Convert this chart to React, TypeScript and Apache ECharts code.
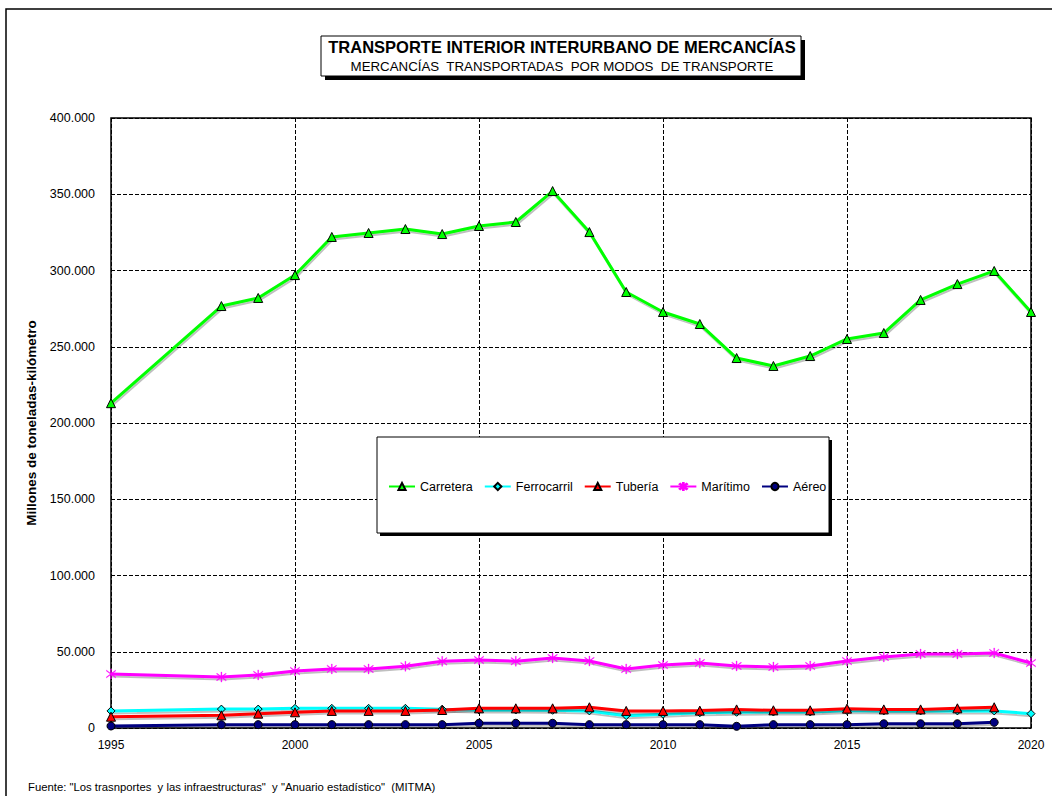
import React, { useEffect, useRef } from "react";
import * as echarts from "echarts";

const years = [1995, 1998, 1999, 2000, 2001, 2002, 2003, 2004, 2005, 2006, 2007, 2008, 2009, 2010, 2011, 2012, 2013, 2014, 2015, 2016, 2017, 2018, 2019, 2020];
const carretera = [213000, 276700, 282000, 297000, 322000, 324600, 327200, 323900, 329200, 331800, 352100, 325200, 285900, 272800, 264900, 242600, 237400, 243900, 255100, 259000, 280700, 291100, 299700, 272800];
const ferrocarril = [11200, 12400, 12400, 12900, 12900, 12900, 12900, 12300, 11800, 11800, 11600, 11200, 8100, 9000, 10000, 10300, 10500, 10500, 11400, 11200, 11200, 11200, 11200, 9400];
const tuberia = [7400, 8300, 9400, 10300, 11200, 11200, 11200, 11800, 12900, 12900, 12900, 13600, 11200, 11200, 11400, 12200, 11600, 11600, 12700, 12200, 12200, 12900, 13600, null];
const maritimo = [35400, 33400, 34800, 37400, 38700, 38700, 40500, 43700, 44600, 43800, 45900, 43900, 38700, 41300, 42600, 40700, 40000, 40700, 43900, 46600, 48500, 48500, 49200, 42600];
const aereo = [1300, 2200, 2200, 2200, 2200, 2200, 2200, 2200, 3100, 3100, 3100, 2200, 2200, 2200, 2200, 1100, 2200, 2200, 2200, 2800, 2800, 2800, 3700, null];

const seriesNames = ["Carretera", "Ferrocarril", "Tubería", "Marítimo", "Aéreo"];
const title1 = "TRANSPORTE INTERIOR INTERURBANO DE MERCANCÍAS";
const title2 = "MERCANCÍAS  TRANSPORTADAS  POR MODOS  DE TRANSPORTE";
const yName = "Millones de toneladas-kilómetro";
const footer = 'Fuente: "Los trasnportes  y las infraestructuras"  y "Anuario estadístico"  (MITMA)';

const FONT = "'Liberation Sans', Arial, sans-serif";

const asterisk =
  "path://M-0.35,-5 L0.35,-5 L0.35,5 L-0.35,5 Z M3.29,3.78 L3.78,3.29 L-3.29,-3.78 L-3.78,-3.29 Z M3.78,-3.29 L3.29,-3.78 L-3.78,3.29 L-3.29,3.78 Z";

function pairs(vals: (number | null)[]) {
  const out: number[][] = [];
  years.forEach((y, i) => {
    const v = vals[i];
    if (v !== null && v !== undefined) out.push([y, v]);
  });
  return out;
}

function fmtThousands(v: number) {
  if (v === 0) return "0";
  const s = String(Math.round(v));
  return s.replace(/\B(?=(\d{3})+(?!\d))/g, ".");
}

export default function App() {
  const ref = useRef<HTMLDivElement>(null);
  useEffect(() => {
    if (!ref.current) return;
    const chart = echarts.init(ref.current, null, { renderer: "svg" });
    const shadow = { shadowColor: "rgba(0,0,0,0.25)", shadowBlur: 1, shadowOffsetX: 1, shadowOffsetY: 2 };
    const mk = (name: string, vals: (number | null)[], color: string, symbol: string, size: number, border: boolean) => ({
      name,
      type: "line",
      data: pairs(vals),
      symbol,
      symbolSize: size,
      showSymbol: true,
      lineStyle: { color, width: 3, ...shadow },
      itemStyle: { color, borderColor: border ? "#000" : color, borderWidth: border ? 1 : 0.3 },
      emphasis: { disabled: true },
    });
    chart.setOption({
      animation: false,
      textStyle: { fontFamily: FONT },
      grid: { left: 111, top: 118, width: 920, height: 610, show: true, borderColor: "#000", borderWidth: 1.5, backgroundColor: "#fff", outerBoundsMode: "none" },
      xAxis: {
        type: "value",
        min: 1995,
        max: 2020,
        interval: 5,
        axisLine: { show: false },
        axisTick: { show: false },
        axisLabel: { color: "#000", fontSize: 12, fontFamily: FONT, margin: 11, formatter: (v: number) => String(v) },
        splitLine: { show: true, lineStyle: { color: "#000", type: [4, 2], width: 1 } },
      },
      yAxis: {
        type: "value",
        min: 0,
        max: 400000,
        interval: 50000,
        name: yName,
        nameLocation: "middle",
        nameGap: 71,
        nameTextStyle: { color: "#000", fontSize: 13.5, fontWeight: "bold", fontFamily: FONT },
        axisLine: { show: false },
        axisTick: { show: false },
        axisLabel: { color: "#000", fontSize: 12.5, fontFamily: FONT, margin: 16, formatter: (v: number) => fmtThousands(v) },
        splitLine: { show: true, lineStyle: { color: "#000", type: [4, 2], width: 1 } },
      },
      legend: {
        left: 388,
        top: 480,
        width: 500,
        itemWidth: 26,
        itemHeight: 9,
        itemGap: 11,
        padding: 0,
        textStyle: { color: "#000", fontSize: 12.5, fontFamily: FONT },
        data: seriesNames,
        z: 10,
      },
      graphic: [
        { type: "rect", z: -10, shape: { x: 6, y: 9, width: 1100, height: 900 }, style: { fill: "none", stroke: "#000", lineWidth: 1.5 } },
        { type: "rect", z: 5, shape: { x: 325, y: 40, width: 480, height: 40 }, style: { fill: "#000" } },
        { type: "rect", z: 6, shape: { x: 321, y: 36, width: 480, height: 40 }, style: { fill: "#fff", stroke: "#000", lineWidth: 1 } },
        { type: "text", z: 7, x: 562, y: 47, style: { text: title1, fill: "#000", font: `bold 16.5px ${FONT}`, align: "center", verticalAlign: "middle" } },
        { type: "text", z: 7, x: 562, y: 66, style: { text: title2, fill: "#000", font: `13.3px ${FONT}`, align: "center", verticalAlign: "middle" } },
        { type: "rect", z: 8, shape: { x: 380, y: 440, width: 452, height: 96 }, style: { fill: "#000" } },
        { type: "rect", z: 9, shape: { x: 377, y: 437, width: 452, height: 96 }, style: { fill: "#fff", stroke: "#000", lineWidth: 1 } },
        { type: "text", z: 7, x: 28, y: 787, style: { text: footer, fill: "#000", font: `11.3px ${FONT}`, align: "left", verticalAlign: "middle" } },
      ],
      series: [
        mk("Carretera", carretera, "#00ff00", "triangle", 9, true),
        mk("Ferrocarril", ferrocarril, "#00ffff", "diamond", 8, true),
        mk("Tubería", tuberia, "#ff0000", "triangle", 9, true),
        mk("Marítimo", maritimo, "#ff00ff", asterisk, 10, false),
        mk("Aéreo", aereo, "#000080", "circle", 8, true),
      ],
    });
    return () => chart.dispose();
  }, []);
  return <div ref={ref} style={{ position: "fixed", left: 0, top: 0, width: 1052, height: 796, background: "#fff" }} />;
}
